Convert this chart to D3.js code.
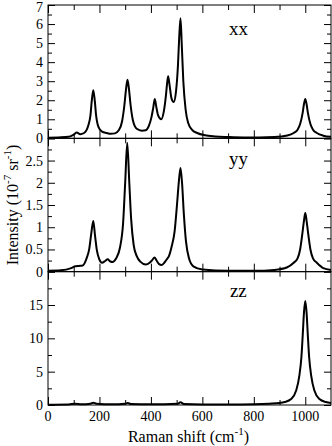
<!DOCTYPE html>
<html>
<head>
<meta charset="utf-8">
<script src="https://cdn.jsdelivr.net/npm/d3@7"></script>
<style>
  body { margin: 0; background: #fff; }
  svg { display: block; }
  svg text { font-family: "Liberation Serif", "Times New Roman", Times, "DejaVu Serif", serif !important; fill: #000; }
</style>
</head>
<body>
<div id="my_dataviz"></div>
<script>
// spectra: [Raman shift (cm-1), intensity (1e-7 sr-1)]
const xxSpectrum = [
  [0, 0.03], [40, 0.05], [80, 0.08], [100, 0.2], [112, 0.3], [125, 0.22], [140, 0.28],
  [156, 0.65], [165, 1.2], [170, 1.95], [176, 2.53], [182, 1.95], [187, 1.2], [196, 0.6],
  [210, 0.35], [228, 0.28], [245, 0.24], [260, 0.26], [275, 0.42], [288, 0.9], [297, 1.75],
  [303, 2.55], [309, 3.08], [315, 2.55], [321, 1.75], [330, 0.95], [345, 0.5], [365, 0.4],
  [380, 0.42], [392, 0.65], [402, 1.1], [409, 1.6], [415, 2.07], [421, 1.65], [428, 1.2],
  [440, 1.0], [450, 1.4], [458, 2.2], [463, 2.9], [467, 3.26], [472, 2.85], [480, 2.1],
  [489, 1.91], [497, 2.4], [505, 3.8], [510, 5.3], [515, 6.3], [520, 4.9], [526, 3.0],
  [535, 1.5], [545, 0.8], [560, 0.45], [580, 0.28], [610, 0.16], [650, 0.1], [700, 0.07],
  [760, 0.05], [820, 0.05], [880, 0.07], [930, 0.15], [955, 0.28], [970, 0.45], [980, 0.75],
  [990, 1.35], [995, 1.8], [1000, 2.07], [1005, 1.8], [1010, 1.35], [1020, 0.75], [1030, 0.45],
  [1045, 0.28], [1070, 0.14], [1100, 0.08]
];

const yySpectrum = [
  [0, 0.02], [50, 0.03], [90, 0.08], [105, 0.12], [120, 0.13], [135, 0.14], [150, 0.3],
  [160, 0.5], [168, 0.85], [176, 1.14], [183, 0.8], [190, 0.48], [200, 0.27], [210, 0.2],
  [222, 0.24], [232, 0.28], [242, 0.23], [252, 0.22], [265, 0.3], [280, 0.55], [292, 1.1],
  [300, 2.0], [308, 2.9], [316, 2.0], [323, 1.2], [333, 0.6], [345, 0.35], [360, 0.22],
  [380, 0.16], [395, 0.2], [405, 0.26], [414, 0.32], [422, 0.25], [432, 0.17], [441, 0.15],
  [452, 0.2], [462, 0.28], [470, 0.35], [480, 0.55], [492, 0.9], [502, 1.55], [509, 2.05],
  [515, 2.33], [521, 2.0], [528, 1.3], [536, 0.7], [548, 0.3], [565, 0.12], [600, 0.05],
  [700, 0.02], [800, 0.02], [880, 0.04], [930, 0.1], [955, 0.2], [970, 0.3], [980, 0.5],
  [990, 0.92], [995, 1.15], [1000, 1.32], [1005, 1.15], [1010, 0.92], [1020, 0.5],
  [1030, 0.3], [1045, 0.2], [1070, 0.08], [1100, 0.04]
];

const zzSpectrum = [
  [0, 0.05], [80, 0.08], [105, 0.2], [130, 0.12], [165, 0.2], [176, 0.35], [188, 0.2],
  [250, 0.1], [300, 0.2], [310, 0.3], [322, 0.15], [400, 0.1], [505, 0.2], [515, 0.4],
  [528, 0.15], [600, 0.08], [700, 0.08], [800, 0.12], [860, 0.2], [900, 0.3], [920, 0.45],
  [945, 0.9], [965, 2.2], [977, 4.4], [985, 7.2], [990, 10.4], [995, 13.9], [1000, 15.6],
  [1005, 13.9], [1010, 10.4], [1015, 7.2], [1023, 4.4], [1035, 2.2], [1055, 0.9],
  [1080, 0.45], [1100, 0.3]
];

const panelNames = ["xx", "yy", "zz"];
const panelMax = [7, 3, 20];
const panelMajor = [1, 0.5, 5];
const xTickLabels = [0, 200, 400, 600, 800, 1000];

// layout
let margin = {top: 5, right: 1, bottom: 41, left: 48},
    width = 332 - margin.left - margin.right,
    fullH = 446 - margin.top - margin.bottom,
    panelH = fullH / 3;

let svg = d3.select("#my_dataviz")
  .append("svg")
  .attr("width", 332)
  .attr("height", 446)
  .append("g")
  .attr("transform", `translate(${margin.left},${margin.top})`);

let x = d3.scaleLinear().domain([0, 1100]).range([0, width]);

let spectra = [xxSpectrum, yySpectrum, zzSpectrum];

spectra.forEach(function(data, i) {
  let top = i * panelH;
  let g = svg.append("g").attr("transform", `translate(0,${top})`);

  let y = d3.scaleLinear().domain([0, panelMax[i]]).range([panelH, 0]);
  let step = panelMajor[i];
  let majors = d3.range(0, panelMax[i] + step / 2, step);
  let minors = d3.range(step / 2, panelMax[i], step);

  // x ticks, inside, top & bottom
  let xMajor = d3.range(0, 1101, 200), xMinor = d3.range(100, 1100, 200);
  g.append("g")
    .attr("transform", `translate(0,${panelH})`)
    .call(d3.axisBottom(x).tickValues(xMajor).tickSizeInner(-8).tickSizeOuter(0).tickFormat(""))
    .call(a => a.select(".domain").remove());
  g.append("g")
    .attr("transform", `translate(0,${panelH})`)
    .call(d3.axisBottom(x).tickValues(xMinor).tickSizeInner(-5).tickSizeOuter(0).tickFormat(""))
    .call(a => a.select(".domain").remove());
  g.append("g")
    .call(d3.axisTop(x).tickValues(xMajor).tickSizeInner(-8).tickSizeOuter(0).tickFormat(""))
    .call(a => a.select(".domain").remove());
  g.append("g")
    .call(d3.axisTop(x).tickValues(xMinor).tickSizeInner(-5).tickSizeOuter(0).tickFormat(""))
    .call(a => a.select(".domain").remove());

  // y ticks, left with labels (top one hidden below the first panel)
  let shown = i === 0 ? majors : majors.filter(v => v < panelMax[i]);
  g.append("g")
    .call(d3.axisLeft(y).tickValues(majors).tickSizeInner(-7).tickSizeOuter(0)
      .tickPadding(5).tickFormat(v => shown.includes(v) ? d3.format("~g")(v) : ""))
    .call(a => a.select(".domain").remove())
    .call(a => a.selectAll("text").attr("x", -5).style("font-size", "14px")
      .attr("dy", v => v === panelMax[i] ? "0.45em" : "0.32em"));
  g.append("g")
    .call(d3.axisLeft(y).tickValues(minors).tickSizeInner(-4).tickSizeOuter(0).tickFormat(""))
    .call(a => a.select(".domain").remove());
  g.append("g")
    .attr("transform", `translate(${width},0)`)
    .call(d3.axisRight(y).tickValues(majors).tickSizeInner(-7).tickSizeOuter(0).tickFormat(""))
    .call(a => a.select(".domain").remove());
  g.append("g")
    .attr("transform", `translate(${width},0)`)
    .call(d3.axisRight(y).tickValues(minors).tickSizeInner(-4).tickSizeOuter(0).tickFormat(""))
    .call(a => a.select(".domain").remove());

  // frame
  g.append("rect")
    .attr("width", width).attr("height", panelH)
    .attr("fill", "none").attr("stroke", "#000").attr("stroke-width", 1);

  // the spectrum
  g.append("path")
    .datum(data)
    .attr("fill", "none")
    .attr("stroke", "#000")
    .attr("stroke-width", 2)
    .attr("stroke-linejoin", "round")
    .attr("d", d3.line()
      .x(d => x(d[0]))
      .y(d => y(d[1]))
      .curve(d3.curveMonotoneX));

  // panel name
  g.append("text")
    .attr("x", x(740))
    .attr("y", [30, 27, 25][i])
    .attr("text-anchor", "middle")
    .style("font-size", "19px")
    .text(panelNames[i]);
});

// x tick labels under the bottom panel
svg.append("g")
  .selectAll("text")
  .data(xTickLabels)
  .join("text")
  .attr("x", d => x(d))
  .attr("y", fullH + 16)
  .attr("text-anchor", "middle")
  .style("font-size", "14px")
  .text(d => d);

// axis titles
let xt = svg.append("text")
  .attr("x", width / 2 - 1)
  .attr("y", fullH + 37)
  .attr("text-anchor", "middle")
  .style("font-size", "16px");
xt.append("tspan").text("Raman shift (cm");
xt.append("tspan").attr("dy", -7).style("font-size", "11px").text("-1");
xt.append("tspan").attr("dy", 7).text(")");

let yt = svg.append("text")
  .attr("transform", `translate(${-margin.left + 18},${fullH / 2})rotate(-90)`)
  .attr("text-anchor", "middle")
  .style("font-size", "16px");
yt.append("tspan").text("Intensity (10");
yt.append("tspan").attr("dy", -7).style("font-size", "11px").text("-7");
yt.append("tspan").attr("dy", 7).text(" sr");
yt.append("tspan").attr("dy", -7).style("font-size", "11px").text("-1");
yt.append("tspan").attr("dy", 7).text(")");
</script>
</body>
</html>
